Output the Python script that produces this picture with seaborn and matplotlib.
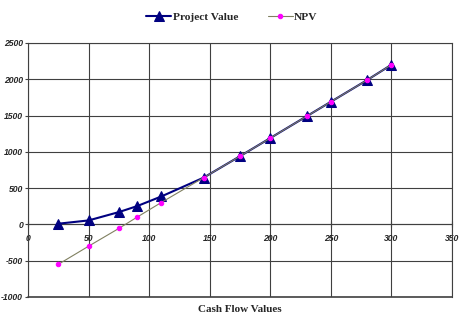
import matplotlib
matplotlib.use("Agg")
import matplotlib.pyplot as plt
import seaborn as sns
import pandas as pd

# values
cash_flow = [25, 50, 75, 90, 110, 145, 175, 200, 230, 250, 280, 300]
project_value = [10, 55, 170, 252, 385, 645, 940, 1190, 1490, 1690, 1990, 2200]
npv = [-550, -300, -55, 100, 302, 645, 940, 1190, 1490, 1690, 1990, 2200]

x_ticks = [0, 50, 100, 150, 200, 250, 300, 350]
y_ticks = [-1000, -500, 0, 500, 1000, 1500, 2000, 2500]

df = pd.DataFrame({"Cash Flow Values": cash_flow,
                   "Project Value": project_value,
                   "NPV": npv})

sns.set_theme(style="white")
plt.rcParams["font.family"] = ["Liberation Serif", "DejaVu Serif"]

fig = plt.figure(figsize=(4.59, 3.15), dpi=100)
ax = fig.add_axes([28 / 459, 1 - 297 / 315, (452 - 28) / 459, (297 - 43) / 315])

sns.lineplot(data=df, x="Cash Flow Values", y="Project Value", ax=ax,
             color="#000080", linewidth=1.5, marker="^", markersize=6.5,
             markeredgecolor="#000080", label="Project Value", zorder=3)
sns.lineplot(data=df, x="Cash Flow Values", y="NPV", ax=ax,
             color="#808060", linewidth=0.8, marker="o", markersize=3.2,
             markerfacecolor="#ff00ff", markeredgecolor="#ff00ff",
             label="NPV", zorder=4)

ax.set_xlim(0, 350)
ax.set_ylim(-1000, 2500)
ax.set_xticks(x_ticks)
ax.set_yticks(y_ticks)
ax.grid(True, color="#404040", linewidth=0.8)
ax.set_axisbelow(True)

for s in ["top", "right", "left"]:
    ax.spines[s].set_color("#404040")
    ax.spines[s].set_linewidth(0.8)
ax.spines["bottom"].set_position(("data", 0))
ax.spines["bottom"].set_color("#404040")
ax.spines["bottom"].set_linewidth(0.8)
ax.axhline(-1000, color="#404040", linewidth=1.2, clip_on=False)

tick_font = dict(family=["Liberation Sans", "DejaVu Sans"], weight="bold",
                 style="italic", size=6.2)
ax.set_xticklabels([str(v) for v in x_ticks], fontdict=tick_font)
ax.set_yticklabels([str(v) for v in y_ticks], fontdict=tick_font)
ax.tick_params(axis="x", direction="inout", length=4, width=0.8,
               color="#404040", pad=5, bottom=True)
ax.tick_params(axis="y", direction="out", length=2.5, width=0.8,
               color="#404040", pad=1, left=True)
ax.set_xlabel("")
ax.set_ylabel("")

ax.get_legend().remove()
handles, labels = ax.get_legend_handles_labels()
fig.legend(handles, labels, loc="upper center", bbox_to_anchor=(0.505, 0.995),
           ncol=2, frameon=False, handlelength=2.2, columnspacing=2.6,
           handletextpad=0.1, prop=dict(family="Liberation Serif",
                                        weight="bold", size=8.2))

fig.text(0.522, 0.004, "Cash Flow Values", ha="center", va="bottom",
         family="Liberation Serif", weight="bold", size=8)

fig.savefig("out.png", dpi=100)
